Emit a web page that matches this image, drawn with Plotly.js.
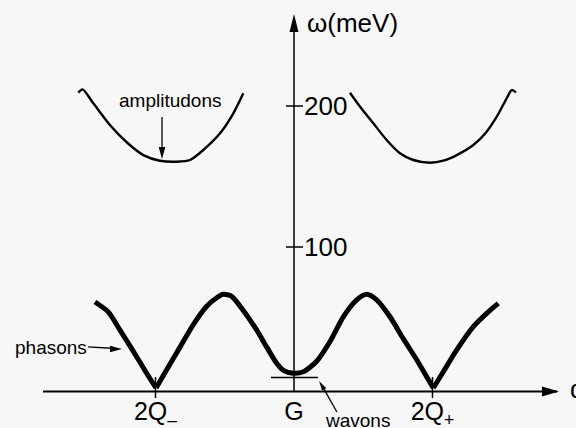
<!DOCTYPE html>
<html>
<head>
<meta charset="utf-8">
<script src="https://cdn.plot.ly/plotly-3.0.1.min.js"></script>
<style>
  html, body { margin: 0; padding: 0; background: #f7f7f7; }
  #chart { width: 576px; height: 428px; }
</style>
</head>
<body>
<div id="chart"></div>
<script>
// Momentum q in units of the G -> 2Q spacing, energy omega in meV.

// Phason branch (thick line), running from left of 2Q- to right of 2Q+
const phasonQ = [-1.437, -1.341, -1.256, -1.160, -1.064, -0.996, -0.919, -0.823, -0.727, -0.630,
                 -0.558, -0.510, -0.450, -0.366, -0.269, -0.197, -0.125, -0.077, -0.005, 0.067,
                 0.164, 0.260, 0.356, 0.453, 0.525, 0.597, 0.693, 0.789, 0.886, 0.958,
                 1.006, 1.078, 1.175, 1.295, 1.415, 1.475];
const phasonW = [61, 54, 41, 26, 10.5, 0, 13, 29, 45, 58,
                 64, 66.5, 65, 55, 41, 29, 17.5, 12.5, 10.5, 11.5,
                 19, 33, 50.5, 62.5, 66.5, 62.5, 50.5, 35, 20, 8,
                 0, 11.5, 27, 43.5, 55, 60];

// Amplitudon branch around 2Q-
const ampLeftQ = [-1.557, -1.527, -1.449, -1.329, -1.208, -1.088, -0.968, -0.847, -0.751, -0.655, -0.534, -0.438, -0.366];
const ampLeftW = [209.5, 211.8, 201.9, 186.5, 174.3, 165.2, 161.2, 160.5, 161.7, 168.8, 180.6, 194.8, 209];

// Amplitudon branch around 2Q+
const ampRightQ = [0.404, 0.477, 0.573, 0.669, 0.765, 0.861, 0.982, 1.078, 1.175, 1.295, 1.391, 1.464, 1.536, 1.572, 1.603];
const ampRightW = [209.4, 199.5, 187.7, 175.9, 166.5, 161.7, 159.8, 161.2, 165.2, 172.3, 181.8, 192.4, 205.5, 211.3, 209.7];

// Flat wavon branch near G
const wavonQ = [-0.166, 0.173];
const wavonW = [7.4, 7.4];

// Axis ticks
const qTickVals = [-1, 0, 1];
const qTickText = ['2Q<sub>–</sub>', 'G', '2Q<sub>+</sub>'];
const wTickVals = [100, 200];
const wTickText = ['100', '200'];

const FONT = 'Liberation Sans, Arial, Helvetica, sans-serif';
const INK = '#000000';
const BG = '#f7f7f7';

// The phason curve has sharp cusps at 2Q- and 2Q+; split it there so the
// smooth spline stays sharp at the zero-energy points.
const cusps = [5, 30];
const phasonPieces = [[0, cusps[0]], [cusps[0], cusps[1]], [cusps[1], phasonQ.length - 1]];

const traces = phasonPieces.map(function (p) {
  return {
    x: phasonQ.slice(p[0], p[1] + 1), y: phasonW.slice(p[0], p[1] + 1),
    mode: 'lines', line: { color: INK, width: 5, shape: 'spline', smoothing: 0.7 },
    hoverinfo: 'skip'
  };
}).concat([
  { x: ampLeftQ, y: ampLeftW, mode: 'lines', line: { color: INK, width: 2.4, shape: 'spline', smoothing: 0.8 }, hoverinfo: 'skip' },
  { x: ampRightQ, y: ampRightW, mode: 'lines', line: { color: INK, width: 2.4, shape: 'spline', smoothing: 0.8 }, hoverinfo: 'skip' },
  { x: wavonQ, y: wavonW, mode: 'lines', line: { color: INK, width: 1.6 }, hoverinfo: 'skip' }
]);

// helpers for decorations
function seg(x0, y0, x1, y1, w) {
  return { type: 'line', xref: 'x', yref: 'y', x0: x0, y0: y0, x1: x1, y1: y1,
           line: { color: INK, width: w } };
}
function head(xa, ya, path) {
  return { type: 'path', xref: 'x', yref: 'y', xsizemode: 'pixel', ysizemode: 'pixel',
           xanchor: xa, yanchor: ya, path: path, fillcolor: INK, line: { width: 0 } };
}

const shapes = [
  // axes
  seg(-1.812, -2.5, 1.90, -2.5, 2),
  seg(0, -2.5, 0, 262, 1.5),
  head(1.913, -2.5, 'M0,0L-17,-5L-17,5Z'),
  head(0, 265.2, 'M0,0L-4.5,-18L4.5,-18Z'),
  // crossing tick marks
  seg(-0.058, 100, 0.065, 100, 1.5),
  seg(-0.058, 200, 0.065, 200, 1.5),
  seg(-1, 7.8, -1, -7.1, 1.5),
  seg(1, 7.8, 1, -7.1, 1.5),
  // pointer for phasons
  seg(-1.487, 29.1, -1.29, 28.0, 1.3),
  head(-1.242, 27.7, 'M0,0L-12,3.2L-12,-3.2Z'),
  // pointer for amplitudons
  seg(-0.953, 192.2, -0.953, 168, 1.3),
  head(-0.953, 162.4, 'M0,0L-3.3,12L3.3,12Z'),
  // pointer for wavons
  seg(0.310, -17.0, 0.200, 2.0, 1.3),
  head(0.181, 5.0, 'M0,0L7.2,-7.3L3.0,-9.9Z')
];

function label(x, y, text, size, xanchor) {
  return { x: x, y: y, xref: 'x', yref: 'y', text: text, showarrow: false,
           xanchor: xanchor || 'center', yanchor: 'middle',
           font: { family: FONT, size: size, color: INK } };
}

const annotations = [
  label(-0.895, 204.2, 'amplitudons', 19),
  label(-2.031, 28.9, 'phasons', 19, 'left'),
  label(0.209, -22.8, 'wavons', 19, 'left'),
  label(0.079, 259.1, 'ω(meV)', 26, 'left'),
  label(1.978, -0.7, 'q', 26, 'left')
];

const layout = {
  width: 576, height: 428,
  margin: { l: 0, r: 0, t: 0, b: 0, pad: 0 },
  paper_bgcolor: BG, plot_bgcolor: BG,
  showlegend: false,
  font: { family: FONT, color: INK },
  xaxis: {
    range: [-2.1227, 2.0361], fixedrange: true,
    showgrid: false, zeroline: false, showline: false, ticks: '',
    tickmode: 'array', tickvals: qTickVals, ticktext: qTickText,
    tickfont: { family: FONT, size: 25, color: INK },
    anchor: 'free', position: 0.0853, ticklabelstandoff: 3
  },
  yaxis: {
    range: [-28.369, 275.177], fixedrange: true,
    showgrid: false, zeroline: false, showline: false, ticks: '',
    tickmode: 'array', tickvals: wTickVals, ticktext: wTickText,
    tickfont: { family: FONT, size: 26, color: INK },
    side: 'right', anchor: 'free', position: 0.5104, ticklabelstandoff: 9
  },
  shapes: shapes,
  annotations: annotations
};

Plotly.newPlot('chart', traces, layout, { displayModeBar: false, staticPlot: true });
</script>
</body>
</html>
